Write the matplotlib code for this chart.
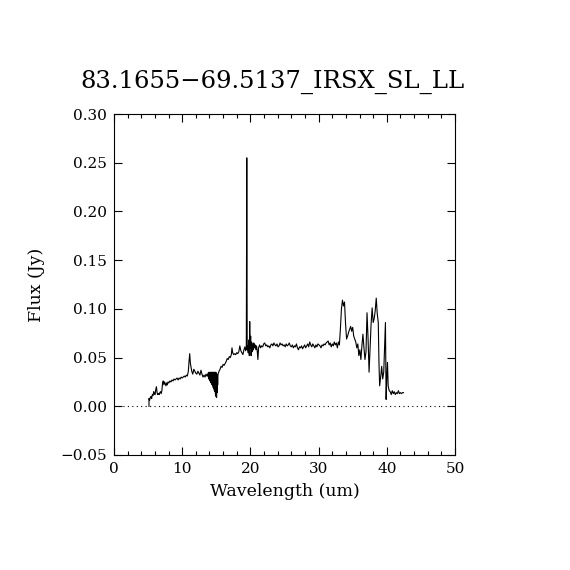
import matplotlib
matplotlib.use("Agg")
import matplotlib.pyplot as plt
from matplotlib.ticker import MultipleLocator, FuncFormatter

title = "83.1655\u221269.5137_IRSX_SL_LL"
xlabel = "Wavelength (um)"
ylabel = "Flux (Jy)"

# SL part (5 - 13.8 um)
wave_sl = [5.13, 5.13, 5.22, 5.32, 5.42, 5.52, 5.62, 5.72, 5.82, 5.92, 6.02, 6.12, 6.22, 6.32,
           6.42, 6.52, 6.62, 6.72, 6.82, 6.92, 7.02, 7.12, 7.22, 7.32, 7.42, 7.52, 7.62, 7.72,
           7.82, 7.92, 8.05, 8.2, 8.35, 8.5, 8.65, 8.8, 8.95, 9.1, 9.25, 9.4, 9.55, 9.7, 9.85,
           10.0, 10.15, 10.3, 10.45, 10.6, 10.75, 10.9, 11.0, 11.1, 11.2, 11.3, 11.4, 11.55,
           11.7, 11.85, 12.0, 12.15, 12.3, 12.45, 12.6, 12.75, 12.9, 13.05, 13.2, 13.35, 13.5,
           13.65, 13.8]
flux_sl = [0.000, 0.008, 0.006, 0.009, 0.010, 0.008, 0.012, 0.011, 0.015, 0.013, 0.012, 0.017,
           0.020, 0.014, 0.012, 0.013, 0.012, 0.014, 0.015, 0.013, 0.016, 0.024, 0.026, 0.022,
           0.025, 0.023, 0.021, 0.024, 0.022, 0.025, 0.024, 0.026, 0.025, 0.027, 0.026, 0.028,
           0.027, 0.028, 0.029, 0.027, 0.029, 0.028, 0.030, 0.029, 0.030, 0.031, 0.030, 0.032,
           0.031, 0.036, 0.046, 0.054, 0.044, 0.040, 0.036, 0.033, 0.038, 0.036, 0.034, 0.033,
           0.036, 0.034, 0.032, 0.037, 0.033, 0.030, 0.032, 0.030, 0.033, 0.031, 0.034]

# noisy overlap region (13.8 - 15.2 um)
wave_ov = [13.84, 13.88, 13.92, 13.96, 14.0, 14.04, 14.08, 14.12, 14.16, 14.2, 14.24, 14.28,
           14.32, 14.36, 14.4, 14.44, 14.48, 14.52, 14.56, 14.6, 14.64, 14.68, 14.72, 14.76,
           14.8, 14.84, 14.88, 14.92, 14.96, 15.0, 15.04, 15.08, 15.12, 15.16, 15.2]
flux_ov = [0.030, 0.034, 0.028, 0.035, 0.027, 0.034, 0.026, 0.035, 0.025, 0.034, 0.024, 0.035,
           0.023, 0.034, 0.022, 0.035, 0.021, 0.034, 0.019, 0.035, 0.018, 0.034, 0.016, 0.035,
           0.015, 0.034, 0.012, 0.035, 0.010, 0.034, 0.009, 0.033, 0.014, 0.032, 0.022]

# LL part (15.25 - 42.5 um)
wave_ll = [15.25, 15.4, 15.55, 15.7, 15.85, 16.0, 16.15, 16.3, 16.45, 16.6, 16.75, 16.9, 17.05,
           17.2, 17.3, 17.4, 17.55, 17.7, 17.85, 18.0, 18.15, 18.3, 18.45, 18.6, 18.75, 18.9,
           19.05, 19.2, 19.3, 19.4, 19.47, 19.53, 19.6, 19.68, 19.76, 19.84, 19.9, 19.96, 20.04,
           20.1, 20.18, 20.26, 20.34, 20.42, 20.5, 20.6, 20.7, 20.8, 20.9, 21.0, 21.1, 21.2,
           21.35, 21.5, 21.65, 21.8, 21.95, 22.1, 22.25, 22.4, 22.55, 22.7, 22.85, 23.0, 23.15,
           23.3, 23.45, 23.6, 23.75, 23.9, 24.05, 24.2, 24.35, 24.5, 24.65, 24.8, 24.95, 25.1,
           25.25, 25.4, 25.55, 25.7, 25.85, 26.0, 26.15, 26.3, 26.45, 26.6, 26.75, 26.9, 27.05,
           27.2, 27.35, 27.5, 27.65, 27.8, 27.95, 28.1, 28.25, 28.4, 28.55, 28.7, 28.85, 29.0,
           29.15, 29.3, 29.45, 29.6, 29.75, 29.9, 30.05, 30.2, 30.35, 30.5, 30.65, 30.8, 30.95,
           31.1, 31.25, 31.4, 31.55, 31.7, 31.85, 32.0, 32.15, 32.3, 32.45, 32.6, 32.75, 32.9,
           33.05, 33.2, 33.35, 33.5, 33.65, 33.8, 33.95, 34.1, 34.25, 34.4, 34.55, 34.7, 34.85,
           35.0, 35.15, 35.3, 35.45, 35.6, 35.75, 35.9, 36.05, 36.2, 36.35, 36.5, 36.65, 36.8,
           36.95, 37.1, 37.25, 37.4, 37.55, 37.7, 37.85, 38.0, 38.15, 38.3, 38.45, 38.6, 38.75,
           38.85, 38.95, 39.1, 39.25, 39.4, 39.55, 39.8, 39.9, 40.0, 40.1, 40.2, 40.35, 40.5,
           40.65, 40.8, 40.95, 41.1, 41.25, 41.4, 41.55, 41.7, 41.85, 42.0, 42.15, 42.3, 42.45]
flux_ll = [0.033, 0.036, 0.038, 0.041, 0.040, 0.043, 0.042, 0.044, 0.046, 0.049, 0.048, 0.051,
           0.050, 0.053, 0.060, 0.055, 0.053, 0.054, 0.053, 0.055, 0.054, 0.056, 0.062, 0.057,
           0.055, 0.053, 0.058, 0.061, 0.057, 0.060, 0.255, 0.058, 0.062, 0.055, 0.068, 0.052,
           0.087, 0.060, 0.072, 0.052, 0.066, 0.056, 0.064, 0.058, 0.065, 0.060, 0.063, 0.058,
           0.062, 0.057, 0.048, 0.060, 0.063, 0.060, 0.062, 0.061, 0.064, 0.065, 0.062, 0.063,
           0.061, 0.062, 0.060, 0.063, 0.064, 0.062, 0.065, 0.063, 0.062, 0.064, 0.061, 0.062,
           0.065, 0.063, 0.064, 0.062, 0.063, 0.061, 0.064, 0.062, 0.063, 0.065, 0.062, 0.061,
           0.063, 0.060, 0.062, 0.061, 0.064, 0.060, 0.058, 0.061, 0.060, 0.062, 0.059, 0.061,
           0.063, 0.060, 0.062, 0.064, 0.061, 0.066, 0.063, 0.061, 0.064, 0.062, 0.060, 0.063,
           0.061, 0.064, 0.063, 0.062, 0.060, 0.063, 0.062, 0.064, 0.063, 0.065,
           0.066, 0.067, 0.063, 0.065, 0.061, 0.064, 0.062, 0.066, 0.063, 0.065, 0.060, 0.066,
           0.063, 0.080, 0.100, 0.109, 0.103, 0.107, 0.085, 0.069, 0.072, 0.076, 0.079, 0.082,
           0.077, 0.081, 0.072, 0.069, 0.066, 0.060, 0.064, 0.052, 0.058, 0.048, 0.062, 0.074,
           0.060, 0.048, 0.056, 0.096, 0.070, 0.035, 0.060, 0.085, 0.101, 0.086, 0.090, 0.098,
           0.111, 0.095, 0.086, 0.045, 0.021, 0.030, 0.041, 0.028, 0.035, 0.086, 0.007, 0.030,
           0.045, 0.021, 0.016, 0.015, 0.012, 0.016, 0.013, 0.015, 0.012, 0.014, 0.013, 0.016,
           0.013, 0.014, 0.013, 0.014, 0.014]

wave = wave_sl + wave_ov + wave_ll
flux = flux_sl + flux_ov + flux_ll

plt.rcParams['font.family'] = ['DejaVu Serif']
fig = plt.figure(figsize=(5.7, 5.7), dpi=100)
ax = fig.add_axes([114/570, 1-455/570, (455-114)/570, (455-114)/570])

ax.plot(wave, flux, color='black', lw=0.8)
ax.axhline(0.0, color='black', lw=0.8, linestyle=(0, (1, 3)))

ax.set_xlim(0, 50)
ax.set_ylim(-0.05, 0.30)
ax.xaxis.set_major_locator(MultipleLocator(10))
ax.xaxis.set_minor_locator(MultipleLocator(2))
ax.yaxis.set_major_locator(MultipleLocator(0.05))
ax.yaxis.set_major_formatter(FuncFormatter(lambda v, p: ('%.2f' % v).replace('-', '\u2212')))
ax.tick_params(axis='both', which='both', direction='in', top=True, right=True,
               labelsize=11, width=0.8)
ax.tick_params(axis='both', which='major', length=5.5, pad=5)
ax.tick_params(axis='both', which='minor', length=3)
ax.tick_params(axis='y', which='minor', left=False, right=False)
for s in ax.spines.values():
    s.set_linewidth(0.8)

ax.set_xlabel(xlabel, fontsize=12.5, labelpad=5)
ax.set_ylabel(ylabel, fontsize=12.5, labelpad=11)
fig.text(272/570, 1-82/570, title, fontsize=17.5, ha='center', va='center')

fig.savefig("out.png", dpi=100, facecolor='white')
